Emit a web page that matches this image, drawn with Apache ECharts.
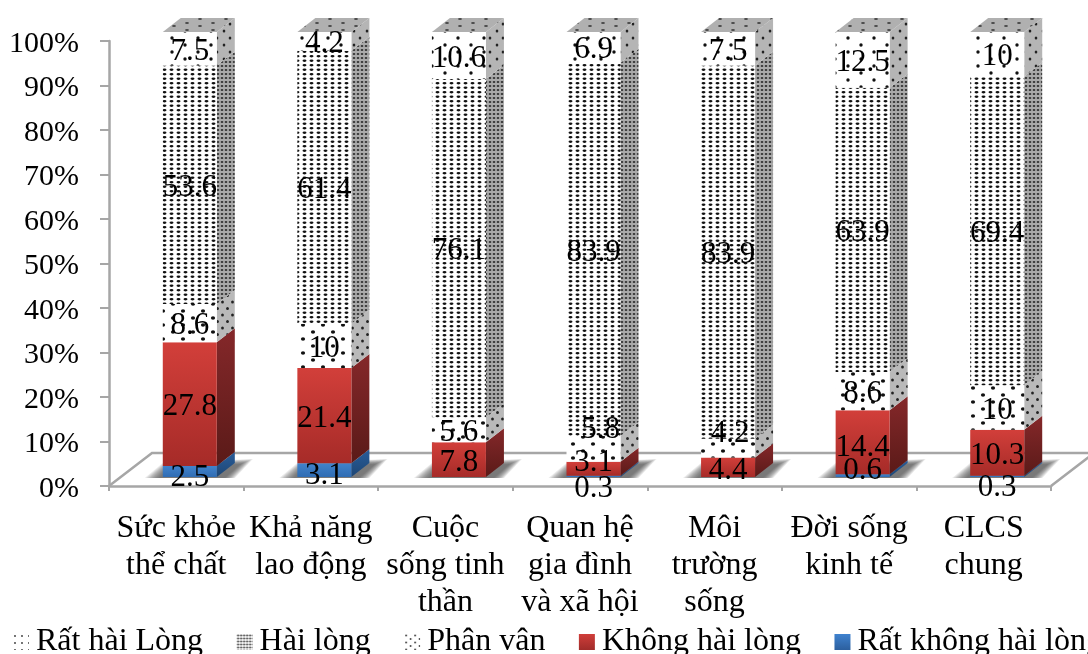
<!DOCTYPE html>
<html>
<head>
<meta charset="utf-8">
<script src="https://cdn.jsdelivr.net/npm/echarts@6/dist/echarts.min.js"></script>
<style>html,body{margin:0;padding:0;background:#fff}#chart{width:1088px;height:654px}</style>
</head>
<body>
<div id="chart"></div>
<script>
// Satisfaction by domain, stacked to 100%
const categories = ['Sức khỏe\nthể chất', 'Khả năng\nlao động', 'Cuộc\nsống tinh\nthần', 'Quan hệ\ngia đình\nvà xã hội', 'Môi\ntrường\nsống', 'Đời sống\nkinh tế', 'CLCS\nchung'];
const ratKhongHaiLong = [2.5, 3.1, 0, 0.3, 0, 0.6, 0.3];
const khongHaiLong = [27.8, 21.4, 7.8, 3.1, 4.4, 14.4, 10.3];
const phanVan = [8.6, 10, 5.6, 5.8, 4.2, 8.6, 10];
const haiLong = [53.6, 61.4, 76.1, 83.9, 83.9, 63.9, 69.4];
const ratHaiLong = [7.5, 4.2, 10.6, 6.9, 7.5, 12.5, 10];

const FONT = '"Liberation Serif", "Times New Roman", serif';
const DEPTH_X = 18, DEPTH_Y = 14;     // side/top face extrusion
const FRONT_X = 13.5, FRONT_Y = 9;    // front face offset from the axis plane
const BAR_W = 54;
const LABEL_DROP = 3;                 // optical centring of the serif digits
const SHADOW_LAYERS = 10;             // stacked translucent polygons make the soft edge

// Hand-placed data labels: "series,category" -> [dx, dy]
const labelNudge = {
  '0,0': [0, 3], '0,1': [0, 3], '0,3': [0, 10], '0,5': [0, -8], '0,6': [0, 9],
  '1,3': [0, -9], '1,4': [0, 1], '1,5': [0, 3],
  '2,3': [7, -22], '2,4': [2, -17]
};

function dotPattern(w, h, bg, color, dots, dw, dh) {
  const c = document.createElement('canvas');
  c.width = w; c.height = h;
  const g = c.getContext('2d');
  if (bg) { g.fillStyle = bg; g.fillRect(0, 0, w, h); }
  g.fillStyle = color;
  dots.forEach(d => {
    g.beginPath();
    g.ellipse(d[0], d[1], dw, dh, 0, 0, Math.PI * 2);
    g.fill();
  });
  return { image: c, repeat: 'repeat' };
}
function grad(a, b) {
  return { type: 'linear', x: 0, y: 0, x2: 0, y2: 1, colorStops: [{ offset: 0, color: a }, { offset: 1, color: b }] };
}

const styles = [
  { name: 'Rất không hài lòng', values: ratKhongHaiLong,
    front: grad('#4183cc', '#2f6cb3'), side: grad('#2a5d9a', '#1d4674'), legend: grad('#3f82cf', '#2c5f9e') },
  { name: 'Không hài lòng', values: khongHaiLong,
    front: grad('#d23f3a', '#a62b28'), side: grad('#85282a', '#5a1a18'), legend: grad('#d03e3a', '#a02c2a') },
  { name: 'Phân vân', values: phanVan,
    front: dotPattern(20, 14, '#fff', '#111', [[3, 3], [13, 10]], 2.1, 1.8),
    side: dotPattern(10, 13, '#b9b9b9', '#222', [[2.5, 3], [7.5, 9.5]], 1.4, 1.6),
    legend: dotPattern(9, 7, '#fff', '#333', [[2, 1.5], [6.5, 5]], 0.9, 0.9) },
  { name: 'Hài lòng', values: haiLong,
    front: dotPattern(7, 9, '#fff', '#111', [[3.5, 2.25], [3.5, 6.75]], 2, 1.15),
    side: dotPattern(4, 4, '#aaaaaa', '#333', [[2, 2]], 1.3, 1.1),
    legend: dotPattern(3, 3, '#fff', '#333', [[1.5, 1.5]], 1, 0.9) },
  { name: 'Rất hài Lòng', values: ratHaiLong,
    front: dotPattern(26, 14, '#fff', '#111', [[3, 3], [16, 10]], 1.7, 1.7),
    side: dotPattern(13, 14, '#b5b5b5', '#222', [[3, 3], [9, 10]], 1.3, 1.6),
    top: dotPattern(26, 7, '#b0b0b0', '#222', [[5, 2], [18, 5]], 2, 0.8),
    legend: dotPattern(7, 7, '#fff', '#333', [[2, 2]], 0.9, 0.9) }
];

const totals = categories.map((_, i) => styles.reduce((s, st) => s + st.values[i], 0));
const starts = styles.map((st, k) => st.values.map((_, i) => {
  let s = 0;
  for (let j = 0; j < k; j++) s += styles[j].values[i];
  return s / totals[i] * 100;
}));

function poly(points, fill, z2) {
  return { type: 'polygon', shape: { points }, style: { fill }, z2: z2 || 0, silent: true };
}

function renderSegment(k) {
  return function (params, api) {
    const i = api.value(0), from = api.value(1), to = api.value(2), val = api.value(3);
    if (!val) return { type: 'group', children: [] };
    const pBot = api.coord([i, from]), pTop = api.coord([i, to]);
    const x0 = pBot[0] + FRONT_X - BAR_W / 2, x1 = x0 + BAR_W;
    const yb = pBot[1] - FRONT_Y, yt = pTop[1] - FRONT_Y;
    const st = styles[k];
    const kids = [
      poly([[x1, yt], [x1 + DEPTH_X, yt - DEPTH_Y], [x1 + DEPTH_X, yb - DEPTH_Y], [x1, yb]], st.side, 2),
      poly([[x0, yt], [x1, yt], [x1, yb], [x0, yb]], st.front, 2)
    ];
    if (st.top && to > 99.9) {
      kids.push(poly([[x0, yt], [x0 + DEPTH_X, yt - DEPTH_Y], [x1 + DEPTH_X, yt - DEPTH_Y], [x1, yt]], st.top, 2));
    }
    const n = labelNudge[k + ',' + i] || [0, 0];
    kids.push({
      type: 'text', z2: 50, silent: true,
      style: {
        text: String(val), x: (x0 + x1) / 2 + n[0], y: (yb + yt) / 2 + LABEL_DROP + n[1],
        font: '31px ' + FONT, fill: '#000', align: 'center', verticalAlign: 'middle'
      }
    });
    return { type: 'group', children: kids };
  };
}

// Floor plane with the soft shadows cast by each column
function renderFloor(params, api) {
  const c = params.coordSys;
  const left = c.x, right = c.x + c.width, base = c.y + c.height;
  const dx = 43, dy = 33;
  const line = { stroke: '#a6a6a6', lineWidth: 2.5, fill: null };
  const kids = [
    { type: 'polyline', silent: true, shape: { points: [[left, base], [left + dx, base - dy], [right + dx, base - dy], [right, base]] }, style: line }
  ];
  categories.forEach((_, i) => {
    const p = api.coord([i, 0]);
    const x0 = p[0] + FRONT_X - BAR_W / 2, x1 = x0 + BAR_W;
    for (let t = 0; t < SHADOW_LAYERS; t++) {
      const s = 1 - t / (SHADOW_LAYERS - 1);
      kids.push(poly([
        [x0 - 4 - 14 * s, base - 8],
        [x0 + 6 - 6 * s, base - 19 - 4 * s],
        [x1 + 24 + 12 * s, base - 22 - 5 * s],
        [x1 + 8 + 10 * s, base - 8]
      ], 'rgba(60,60,60,0.11)', 1));
    }
  });
  return { type: 'group', children: kids };
}

const series = [{
  type: 'custom', silent: true, clip: false, z: 1, renderItem: renderFloor,
  data: [[0, 0]], encode: { x: 0, y: 1 }
}].concat(styles.map((st, k) => ({
  name: st.name, type: 'custom', clip: false, silent: true, z: 2,
  renderItem: renderSegment(k),
  encode: { x: 0, y: [1, 2] },
  itemStyle: { color: '#888' },
  data: st.values.map((v, i) => [i, starts[k][i], starts[k][i] + v / totals[i] * 100, v])
})));

const chart = echarts.init(document.getElementById('chart'), null, { renderer: 'canvas' });
chart.setOption({
  animation: false,
  backgroundColor: '#fff',
  grid: { left: 109, right: 37, top: 41, height: 445, containLabel: false },
  xAxis: {
    type: 'category', data: categories,
    axisLine: { lineStyle: { color: '#a6a6a6', width: 2.5 } },
    axisTick: { show: true, length: 5, alignWithLabel: false, lineStyle: { color: '#a6a6a6', width: 2 } },
    axisLabel: { interval: 0, color: '#000', fontFamily: FONT, fontSize: 32, lineHeight: 37, margin: 24 }
  },
  yAxis: {
    type: 'value', min: 0, max: 100, interval: 10,
    splitLine: { show: false },
    axisLine: { show: true, lineStyle: { color: '#a6a6a6', width: 2.5 } },
    axisTick: { show: true, length: 9, lineStyle: { color: '#a6a6a6', width: 2 } },
    axisLabel: {
      margin: 30,
      formatter: v => '{t|' + v + '%}',
      rich: { t: { color: '#000', fontFamily: FONT, fontSize: 30, padding: [6, 0, 0, 0] } }
    }
  },
  legend: {
    left: 8, top: 621, width: 1400, itemWidth: 16, itemHeight: 16, itemGap: 33.5, selectedMode: false,
    textStyle: { color: '#000', fontFamily: FONT, fontSize: 32, padding: [0, 0, 0, 2] },
    data: styles.slice().reverse().map(st => ({ name: st.name, icon: 'rect', itemStyle: { color: st.legend } }))
  },
  series
});
</script>
</body>
</html>
